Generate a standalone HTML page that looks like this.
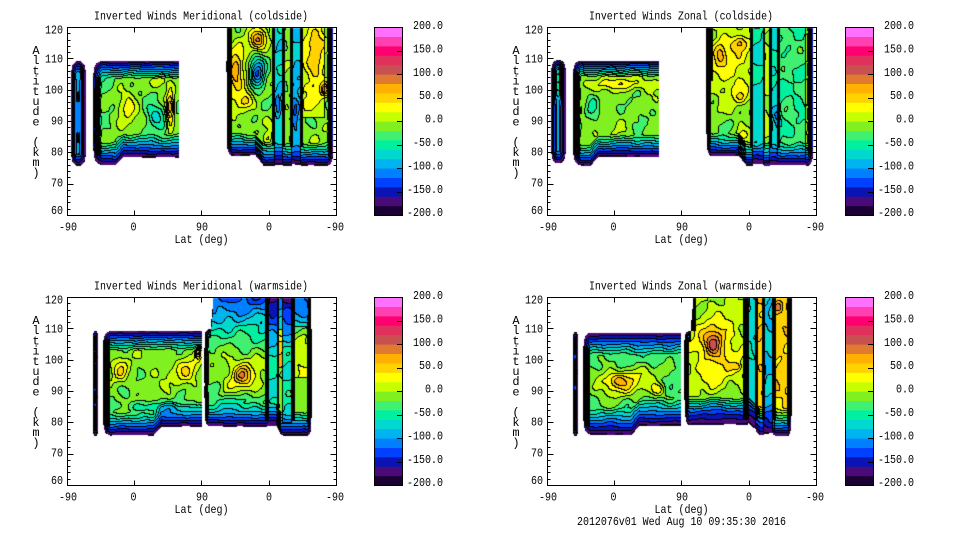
<!DOCTYPE html>
<html><head><meta charset="utf-8">
<style>
html,body{margin:0;padding:0;background:#fff;width:960px;height:540px;overflow:hidden}
#c{position:absolute;left:0;top:0}
#s{position:absolute;left:0;top:0}
text{font-family:"Liberation Mono","DejaVu Sans Mono",monospace;font-size:12px;fill:#000}
</style></head><body>
<canvas id="c" width="960" height="540"></canvas>
<svg id="s" width="960" height="540" xmlns="http://www.w3.org/2000/svg">
<g id="cb"></g>
<path id="ax" d="" stroke="#000" fill="none" stroke-width="1" shape-rendering="crispEdges"/>

<g>
<text x="201" y="19.7" text-anchor="middle" textLength="214" lengthAdjust="spacingAndGlyphs">Inverted Winds Meridional (coldside)</text>
</g>
<g transform="translate(480,0)">
<text x="201" y="19.7" text-anchor="middle" textLength="184" lengthAdjust="spacingAndGlyphs">Inverted Winds Zonal (coldside)</text>
</g>
<g transform="translate(0,270)">
<text x="201" y="19.7" text-anchor="middle" textLength="214" lengthAdjust="spacingAndGlyphs">Inverted Winds Meridional (warmside)</text>
</g>
<g transform="translate(480,270)">
<text x="201" y="19.7" text-anchor="middle" textLength="184" lengthAdjust="spacingAndGlyphs">Inverted Winds Zonal (warmside)</text>
</g>

<g>
<text x="68" y="230.7" text-anchor="middle" textLength="18" lengthAdjust="spacingAndGlyphs">-90</text>
<text x="133.5" y="230.7" text-anchor="middle" textLength="6" lengthAdjust="spacingAndGlyphs">0</text>
<text x="202" y="230.7" text-anchor="middle" textLength="12" lengthAdjust="spacingAndGlyphs">90</text>
<text x="269" y="230.7" text-anchor="middle" textLength="6" lengthAdjust="spacingAndGlyphs">0</text>
<text x="335" y="230.7" text-anchor="middle" textLength="18" lengthAdjust="spacingAndGlyphs">-90</text>
<text x="201.5" y="243" text-anchor="middle" textLength="54" lengthAdjust="spacingAndGlyphs">Lat (deg)</text>
<text x="63" y="33.3" text-anchor="end" textLength="18" lengthAdjust="spacingAndGlyphs">120</text>
<text x="63" y="62.3" text-anchor="end" textLength="18" lengthAdjust="spacingAndGlyphs">110</text>
<text x="63" y="93.5" text-anchor="end" textLength="18" lengthAdjust="spacingAndGlyphs">100</text>
<text x="63" y="124.5" text-anchor="end" textLength="12" lengthAdjust="spacingAndGlyphs">90</text>
<text x="63" y="155.7" text-anchor="end" textLength="12" lengthAdjust="spacingAndGlyphs">80</text>
<text x="63" y="186.7" text-anchor="end" textLength="12" lengthAdjust="spacingAndGlyphs">70</text>
<text x="63" y="214" text-anchor="end" textLength="12" lengthAdjust="spacingAndGlyphs">60</text>
<text x="36" y="54" text-anchor="middle"><tspan x="36" y="54">A</tspan><tspan x="36" y="64.2">l</tspan><tspan x="36" y="74.4">t</tspan><tspan x="36" y="84.6">i</tspan><tspan x="36" y="94.8">t</tspan><tspan x="36" y="105">u</tspan><tspan x="36" y="115.2">d</tspan><tspan x="36" y="125.4">e</tspan><tspan x="36" y="145.8">(</tspan><tspan x="36" y="156">k</tspan><tspan x="36" y="166.2">m</tspan><tspan x="36" y="176.4">)</tspan></text>
</g>
<g transform="translate(480,0)">
<text x="68" y="230.7" text-anchor="middle" textLength="18" lengthAdjust="spacingAndGlyphs">-90</text>
<text x="133.5" y="230.7" text-anchor="middle" textLength="6" lengthAdjust="spacingAndGlyphs">0</text>
<text x="202" y="230.7" text-anchor="middle" textLength="12" lengthAdjust="spacingAndGlyphs">90</text>
<text x="269" y="230.7" text-anchor="middle" textLength="6" lengthAdjust="spacingAndGlyphs">0</text>
<text x="335" y="230.7" text-anchor="middle" textLength="18" lengthAdjust="spacingAndGlyphs">-90</text>
<text x="201.5" y="243" text-anchor="middle" textLength="54" lengthAdjust="spacingAndGlyphs">Lat (deg)</text>
<text x="63" y="33.3" text-anchor="end" textLength="18" lengthAdjust="spacingAndGlyphs">120</text>
<text x="63" y="62.3" text-anchor="end" textLength="18" lengthAdjust="spacingAndGlyphs">110</text>
<text x="63" y="93.5" text-anchor="end" textLength="18" lengthAdjust="spacingAndGlyphs">100</text>
<text x="63" y="124.5" text-anchor="end" textLength="12" lengthAdjust="spacingAndGlyphs">90</text>
<text x="63" y="155.7" text-anchor="end" textLength="12" lengthAdjust="spacingAndGlyphs">80</text>
<text x="63" y="186.7" text-anchor="end" textLength="12" lengthAdjust="spacingAndGlyphs">70</text>
<text x="63" y="214" text-anchor="end" textLength="12" lengthAdjust="spacingAndGlyphs">60</text>
<text x="36" y="54" text-anchor="middle"><tspan x="36" y="54">A</tspan><tspan x="36" y="64.2">l</tspan><tspan x="36" y="74.4">t</tspan><tspan x="36" y="84.6">i</tspan><tspan x="36" y="94.8">t</tspan><tspan x="36" y="105">u</tspan><tspan x="36" y="115.2">d</tspan><tspan x="36" y="125.4">e</tspan><tspan x="36" y="145.8">(</tspan><tspan x="36" y="156">k</tspan><tspan x="36" y="166.2">m</tspan><tspan x="36" y="176.4">)</tspan></text>
</g>
<g transform="translate(0,270)">
<text x="68" y="230.7" text-anchor="middle" textLength="18" lengthAdjust="spacingAndGlyphs">-90</text>
<text x="133.5" y="230.7" text-anchor="middle" textLength="6" lengthAdjust="spacingAndGlyphs">0</text>
<text x="202" y="230.7" text-anchor="middle" textLength="12" lengthAdjust="spacingAndGlyphs">90</text>
<text x="269" y="230.7" text-anchor="middle" textLength="6" lengthAdjust="spacingAndGlyphs">0</text>
<text x="335" y="230.7" text-anchor="middle" textLength="18" lengthAdjust="spacingAndGlyphs">-90</text>
<text x="201.5" y="243" text-anchor="middle" textLength="54" lengthAdjust="spacingAndGlyphs">Lat (deg)</text>
<text x="63" y="33.3" text-anchor="end" textLength="18" lengthAdjust="spacingAndGlyphs">120</text>
<text x="63" y="62.3" text-anchor="end" textLength="18" lengthAdjust="spacingAndGlyphs">110</text>
<text x="63" y="93.5" text-anchor="end" textLength="18" lengthAdjust="spacingAndGlyphs">100</text>
<text x="63" y="124.5" text-anchor="end" textLength="12" lengthAdjust="spacingAndGlyphs">90</text>
<text x="63" y="155.7" text-anchor="end" textLength="12" lengthAdjust="spacingAndGlyphs">80</text>
<text x="63" y="186.7" text-anchor="end" textLength="12" lengthAdjust="spacingAndGlyphs">70</text>
<text x="63" y="214" text-anchor="end" textLength="12" lengthAdjust="spacingAndGlyphs">60</text>
<text x="36" y="54" text-anchor="middle"><tspan x="36" y="54">A</tspan><tspan x="36" y="64.2">l</tspan><tspan x="36" y="74.4">t</tspan><tspan x="36" y="84.6">i</tspan><tspan x="36" y="94.8">t</tspan><tspan x="36" y="105">u</tspan><tspan x="36" y="115.2">d</tspan><tspan x="36" y="125.4">e</tspan><tspan x="36" y="145.8">(</tspan><tspan x="36" y="156">k</tspan><tspan x="36" y="166.2">m</tspan><tspan x="36" y="176.4">)</tspan></text>
</g>
<g transform="translate(480,270)">
<text x="68" y="230.7" text-anchor="middle" textLength="18" lengthAdjust="spacingAndGlyphs">-90</text>
<text x="133.5" y="230.7" text-anchor="middle" textLength="6" lengthAdjust="spacingAndGlyphs">0</text>
<text x="202" y="230.7" text-anchor="middle" textLength="12" lengthAdjust="spacingAndGlyphs">90</text>
<text x="269" y="230.7" text-anchor="middle" textLength="6" lengthAdjust="spacingAndGlyphs">0</text>
<text x="335" y="230.7" text-anchor="middle" textLength="18" lengthAdjust="spacingAndGlyphs">-90</text>
<text x="201.5" y="243" text-anchor="middle" textLength="54" lengthAdjust="spacingAndGlyphs">Lat (deg)</text>
<text x="63" y="33.3" text-anchor="end" textLength="18" lengthAdjust="spacingAndGlyphs">120</text>
<text x="63" y="62.3" text-anchor="end" textLength="18" lengthAdjust="spacingAndGlyphs">110</text>
<text x="63" y="93.5" text-anchor="end" textLength="18" lengthAdjust="spacingAndGlyphs">100</text>
<text x="63" y="124.5" text-anchor="end" textLength="12" lengthAdjust="spacingAndGlyphs">90</text>
<text x="63" y="155.7" text-anchor="end" textLength="12" lengthAdjust="spacingAndGlyphs">80</text>
<text x="63" y="186.7" text-anchor="end" textLength="12" lengthAdjust="spacingAndGlyphs">70</text>
<text x="63" y="214" text-anchor="end" textLength="12" lengthAdjust="spacingAndGlyphs">60</text>
<text x="36" y="54" text-anchor="middle"><tspan x="36" y="54">A</tspan><tspan x="36" y="64.2">l</tspan><tspan x="36" y="74.4">t</tspan><tspan x="36" y="84.6">i</tspan><tspan x="36" y="94.8">t</tspan><tspan x="36" y="105">u</tspan><tspan x="36" y="115.2">d</tspan><tspan x="36" y="125.4">e</tspan><tspan x="36" y="145.8">(</tspan><tspan x="36" y="156">k</tspan><tspan x="36" y="166.2">m</tspan><tspan x="36" y="176.4">)</tspan></text>
</g>

<g>
<text x="443" y="29" text-anchor="end" textLength="30" lengthAdjust="spacingAndGlyphs">200.0</text>
<text x="443" y="52.4" text-anchor="end" textLength="30" lengthAdjust="spacingAndGlyphs">150.0</text>
<text x="443" y="75.8" text-anchor="end" textLength="30" lengthAdjust="spacingAndGlyphs">100.0</text>
<text x="443" y="99.2" text-anchor="end" textLength="24" lengthAdjust="spacingAndGlyphs">50.0</text>
<text x="443" y="122.6" text-anchor="end" textLength="18" lengthAdjust="spacingAndGlyphs">0.0</text>
<text x="443" y="146" text-anchor="end" textLength="30" lengthAdjust="spacingAndGlyphs">-50.0</text>
<text x="443" y="169.4" text-anchor="end" textLength="36" lengthAdjust="spacingAndGlyphs">-100.0</text>
<text x="443" y="192.8" text-anchor="end" textLength="36" lengthAdjust="spacingAndGlyphs">-150.0</text>
<text x="443" y="216.2" text-anchor="end" textLength="36" lengthAdjust="spacingAndGlyphs">-200.0</text>
</g>
<g transform="translate(471,0)">
<text x="443" y="29" text-anchor="end" textLength="30" lengthAdjust="spacingAndGlyphs">200.0</text>
<text x="443" y="52.4" text-anchor="end" textLength="30" lengthAdjust="spacingAndGlyphs">150.0</text>
<text x="443" y="75.8" text-anchor="end" textLength="30" lengthAdjust="spacingAndGlyphs">100.0</text>
<text x="443" y="99.2" text-anchor="end" textLength="24" lengthAdjust="spacingAndGlyphs">50.0</text>
<text x="443" y="122.6" text-anchor="end" textLength="18" lengthAdjust="spacingAndGlyphs">0.0</text>
<text x="443" y="146" text-anchor="end" textLength="30" lengthAdjust="spacingAndGlyphs">-50.0</text>
<text x="443" y="169.4" text-anchor="end" textLength="36" lengthAdjust="spacingAndGlyphs">-100.0</text>
<text x="443" y="192.8" text-anchor="end" textLength="36" lengthAdjust="spacingAndGlyphs">-150.0</text>
<text x="443" y="216.2" text-anchor="end" textLength="36" lengthAdjust="spacingAndGlyphs">-200.0</text>
</g>
<g transform="translate(0,270)">
<text x="443" y="29" text-anchor="end" textLength="30" lengthAdjust="spacingAndGlyphs">200.0</text>
<text x="443" y="52.4" text-anchor="end" textLength="30" lengthAdjust="spacingAndGlyphs">150.0</text>
<text x="443" y="75.8" text-anchor="end" textLength="30" lengthAdjust="spacingAndGlyphs">100.0</text>
<text x="443" y="99.2" text-anchor="end" textLength="24" lengthAdjust="spacingAndGlyphs">50.0</text>
<text x="443" y="122.6" text-anchor="end" textLength="18" lengthAdjust="spacingAndGlyphs">0.0</text>
<text x="443" y="146" text-anchor="end" textLength="30" lengthAdjust="spacingAndGlyphs">-50.0</text>
<text x="443" y="169.4" text-anchor="end" textLength="36" lengthAdjust="spacingAndGlyphs">-100.0</text>
<text x="443" y="192.8" text-anchor="end" textLength="36" lengthAdjust="spacingAndGlyphs">-150.0</text>
<text x="443" y="216.2" text-anchor="end" textLength="36" lengthAdjust="spacingAndGlyphs">-200.0</text>
</g>
<g transform="translate(471,270)">
<text x="443" y="29" text-anchor="end" textLength="30" lengthAdjust="spacingAndGlyphs">200.0</text>
<text x="443" y="52.4" text-anchor="end" textLength="30" lengthAdjust="spacingAndGlyphs">150.0</text>
<text x="443" y="75.8" text-anchor="end" textLength="30" lengthAdjust="spacingAndGlyphs">100.0</text>
<text x="443" y="99.2" text-anchor="end" textLength="24" lengthAdjust="spacingAndGlyphs">50.0</text>
<text x="443" y="122.6" text-anchor="end" textLength="18" lengthAdjust="spacingAndGlyphs">0.0</text>
<text x="443" y="146" text-anchor="end" textLength="30" lengthAdjust="spacingAndGlyphs">-50.0</text>
<text x="443" y="169.4" text-anchor="end" textLength="36" lengthAdjust="spacingAndGlyphs">-100.0</text>
<text x="443" y="192.8" text-anchor="end" textLength="36" lengthAdjust="spacingAndGlyphs">-150.0</text>
<text x="443" y="216.2" text-anchor="end" textLength="36" lengthAdjust="spacingAndGlyphs">-200.0</text>
</g>

<text x="681.5" y="525" text-anchor="middle" textLength="209" lengthAdjust="spacingAndGlyphs">2012076v01 Wed Aug 10 09:35:30 2016</text>
</svg>

<script>
(function(){
var PAL=['#1a0033','#4a0a78','#0a14b4','#0040ff','#0080ff','#00b4f0','#00d8d0','#00f0a0','#40f070','#80f020','#c8ff00','#ffff00','#ffd200','#ffb000','#e07a30','#c85050','#e0305c','#ff0070','#ff40b0','#ff70ff'];
var RGB=PAL.map(function(c){return [parseInt(c.substr(1,2),16),parseInt(c.substr(3,2),16),parseInt(c.substr(5,2),16)];});
function pw(p){if(typeof p==='number')return function(){return p;};return function(x){if(x<=p[0][0])return p[0][1];for(var i=1;i<p.length;i++){if(x<=p[i][0]){var a=p[i-1],b=p[i];return a[1]+(b[1]-a[1])*(x-a[0])/(b[0]-a[0]);}}return p[p.length-1][1];};}

var P=[
{ox:67,oy:27,ph:[0.3,1.1,2.0,0.7,1.9],blocks:[
 {x0:3,x1:19,top:32,bot:140,wl:7,wr:7,wt:14,wb:14,base:-90,nz:0,bumps:[[11,90,2,40,-15]]},
 {x0:25,x1:111,top:32,bot:[[48,140],[56,132]],wl:10,wr:0,wt:20,wb:26,base:-18,nz:1,
  bumps:[[60,80,11,17,50],[88,88,9,12,-55],[103,82,4,20,85],[92,55,9,7,45],[40,55,15,10,-15]],
  blk:[[28,32,50,128]]},
 {x0:159,x1:266,top:0,bot:[[188,130],[196,140]],wl:6,wr:6,wt:0,wb:25,base:-10,nz:1,
  bumps:[[172,50,13,35,40],[191,13,8,11,85],[168,43,6,13,65],[190,46,8,15,-120],[178,75,8,7,35],[201,112,4,6,40],[248,30,9,30,40],[258,63,4,6,70],[211,78,3,12,-50],[228,86,4,15,-50]],
  cols:[[208,215,-60],[225,233,-70],[236,257,25,0,90]],
  blk:[[205,207,0,118],[216,217,0,118],[223,225,0,118],[233,235,0,118]]}
]},
{ox:547,oy:27,ph:[1.7,0.2,0.9,2.5,0.4],blocks:[
 {x0:3,x1:19,top:31,bot:138,wl:7,wr:7,wt:12,wb:14,base:-100,nz:0,bumps:[[11,55,3,14,60]]},
 {x0:25,x1:111,top:32,bot:[[43,140],[51,131]],wl:9,wr:0,wt:18,wb:24,base:-8,nz:1,
  bumps:[[75,57,40,6,38],[45,76,7,12,-45],[93,88,12,14,-20]],blk:[[26,30,46,126]]},
 {x0:159,x1:266,top:0,bot:[[191,130],[199,140]],wl:5,wr:6,wt:0,wb:25,base:0,nz:1,
  bumps:[[183,35,25,30,35],[173,26,5,11,40],[193,16,7,6,40],[193,70,6,6,30],[166,73,6,10,-20],[195,108,5,5,30],[175,100,20,15,-15],[230,90,5,12,-50],[250,73,5,8,-25]],
  cols:[[206,216,-70],[223,230,-60],[231,258,-35]],
  blk:[[160,165,0,53],[203,205,0,120],[216,217,0,120],[222,224,0,120],[230,232,0,120]]}
]},
{ox:67,oy:297,ph:[2.4,1.5,0.1,1.2,2.8],blocks:[
 {x0:25,x1:31,top:32,bot:140,wl:3,wr:3,wt:8,wb:8,base:-130,nz:0,bumps:[[28,60,1.5,4,60],[28,100,1.5,5,60]]},
 {x0:35,x1:134,top:32,bot:[[86,140],[94,131]],wl:8,wr:0,wt:22,wb:26,base:-12,nz:1,
  bumps:[[53,73,8,12,45],[120,73,12,14,45],[131,56,3,6,80],[95,75,14,10,15],[90,110,35,6,-45]],blk:[[35,42,42,128]]},
 {x0:137,x1:244,top:[[143,31],[146,0]],bot:[[209,131],[214,140]],wl:5,wr:4,wt:10,wb:26,base:-10,nz:1,
  grad:function(x,y){return y<60?-120*Math.pow(1-y/60,1.2):0;},
  bumps:[[175,78,18,18,40],[175,78,8,9,45],[160,105,30,8,-45],[150,90,6,6,-20]],
  cols:[[201,210,-50,0,125],[211,215,70,33,70],[216,224,-45,0,125],[228,240,30,30,80]],
  blk:[[198,201,0,122],[210,211,0,122],[224,227,0,122],[241,244,0,122]]}
]},
{ox:547,oy:297,ph:[0.9,2.2,1.4,0.3,1.1],blocks:[
 {x0:25,x1:31,top:33,bot:140,wl:3,wr:3,wt:8,wb:8,base:-130,nz:0,bumps:[[28,75,1.5,10,60]]},
 {x0:35,x1:133,top:33,bot:[[84,140],[92,131]],wl:8,wr:0,wt:26,wb:30,base:-30,nz:1,
  bumps:[[73,86,30,14,65],[70,83,12,7,35],[110,93,8,7,55],[100,75,25,8,15]],blk:[[35,42,50,128]]},
 {x0:137,x1:244,top:[[143,33],[146,0]],bot:[[200,130],[213,140]],wl:5,wr:4,wt:12,wb:30,base:0,nz:1,
  bumps:[[170,55,25,35,35],[166,46,14,20,35],[166,46,7,11,45],[190,70,4,4,40],[175,118,40,14,-75],[231,10,5,6,45]],
  cols:[[201,208,-70],[210,215,55,0,120],[217,225,-80],[228,241,50]],
  blk:[[145,148,0,33],[196,201,0,122],[208,210,0,122],[215,217,0,122],[225,228,0,122],[241,244,0,122]]}
]}
];

var cv=document.getElementById('c'),ctx=cv.getContext('2d');
var img=ctx.createImageData(960,540),D=img.data;
var GW=270,GH=189;
P.forEach(function(pn){
  var ph=pn.ph;
  function noise(x,y){return 10*Math.sin(0.21*x+ph[0])*Math.sin(0.17*y+ph[1])+7*Math.sin(0.09*x+0.13*y+ph[2])+5*Math.sin(0.37*x+ph[3])*Math.cos(0.29*y+ph[4]);}
  pn.blocks.forEach(function(b){b.T=pw(b.top);b.B=pw(b.bot);});
  var id=new Int16Array(GW*GH).fill(-1),bk=new Uint8Array(GW*GH);
  for(var y=0;y<GH;y++)for(var x=0;x<GW;x++){
    for(var bi=0;bi<pn.blocks.length;bi++){
      var b=pn.blocks[bi];
      if(x<b.x0||x>b.x1)continue;
      var t=b.T(x),bt=b.B(x);
      if(y<t||y>bt)continue;
      var f=1;
      if(b.wl)f*=Math.min(1,(x-b.x0+0.5)/b.wl);
      if(b.wr)f*=Math.min(1,(b.x1-x+0.5)/b.wr);
      if(b.wt&&t>0)f*=Math.min(1,(y-t+0.5)/b.wt);
      if(b.wb)f*=Math.min(1,(bt-y+0.5)/b.wb);
      var v=b.base;
      if(b.nz)v+=b.nz*noise(x,y);
      if(b.grad)v+=b.grad(x,y);
      (b.bumps||[]).forEach(function(q){var dx=(x-q[0])/q[2],dy=(y-q[1])/q[3];v+=q[4]*Math.exp(-dx*dx-dy*dy);});
      (b.cols||[]).forEach(function(q){if(x>=q[0]&&x<=q[1]&&(q[3]===undefined||(y>=q[3]&&y<=q[4])))v+=q[2];});
      if(v<-165)v=-165;
      v=-200+(v+200)*f;
      if(v<-182)break;
      var k=Math.floor((v+200)/20);k=k<0?0:(k>19?19:k);
      id[y*GW+x]=k;
      (b.blk||[]).forEach(function(q){if(x>=q[0]&&x<=q[1]&&y>=q[2]&&y<=q[3])bk[y*GW+x]=1;});
      break;
    }
  }
  for(var y2=1;y2<GH-1;y2++)for(var x2=1;x2<GW-1;x2++){
    var p=y2*GW+x2,kk=id[p];if(kk<0)continue;
    var black=bk[p];
    var r=id[p+1],d=id[p+GW];
    if((r>=0&&r!==kk)||(d>=0&&d!==kk))black=1;
    var o=((pn.oy+y2)*960+(pn.ox+x2))*4;
    var c=black?[0,0,0]:RGB[kk];
    D[o]=c[0];D[o+1]=c[1];D[o+2]=c[2];D[o+3]=255;
  }
});
ctx.putImageData(img,0,0);

var ds='';
[[67,27],[547,27],[67,297],[547,297]].forEach(function(o){
  var ox=o[0],oy=o[1];
  ds+='M'+(ox+.5)+' '+(oy+.5)+'h269v188h-269z';
  for(var a=62;a<120;a+=2){
    var yy=Math.round(oy+188-(a-60)*188/60)+.5;var L=(a%10===0)?6:3;
    ds+='M'+(ox+.5)+' '+yy+'h'+L+'M'+(ox+269.5)+' '+yy+'h'+(-L);
  }
  [134,201,269].forEach(function(gx){
    var xx=gx+(ox-67)+.5;
    ds+='M'+xx+' '+(oy+188.5)+'v-5M'+xx+' '+(oy+.5)+'v5';
  });
});
var cb=document.getElementById('cb');var NS='http://www.w3.org/2000/svg';
[[374,27],[845,27],[374,297],[845,297]].forEach(function(o){
  var cx=o[0],cy=o[1];
  for(var i=0;i<20;i++){
    var r=document.createElementNS(NS,'rect');
    var yt=cy+(19-i)*9.4;
    r.setAttribute('x',cx);r.setAttribute('y',yt.toFixed(2));
    r.setAttribute('width',28);r.setAttribute('height',(9.4+0.6).toFixed(2));
    r.setAttribute('fill',PAL[i]);
    cb.appendChild(r);
  }
  ds+='M'+(cx+.5)+' '+(cy+.5)+'h28v188h-28z';
  [150,100,50,0,-50,-100,-150].forEach(function(t){
    var yy=Math.round(cy+(200-t)*188/400)+.5;
    ds+='M'+(cx+23)+' '+yy+'h5';
  });
});
document.getElementById('ax').setAttribute('d',ds);
})();
</script>
</body></html>
